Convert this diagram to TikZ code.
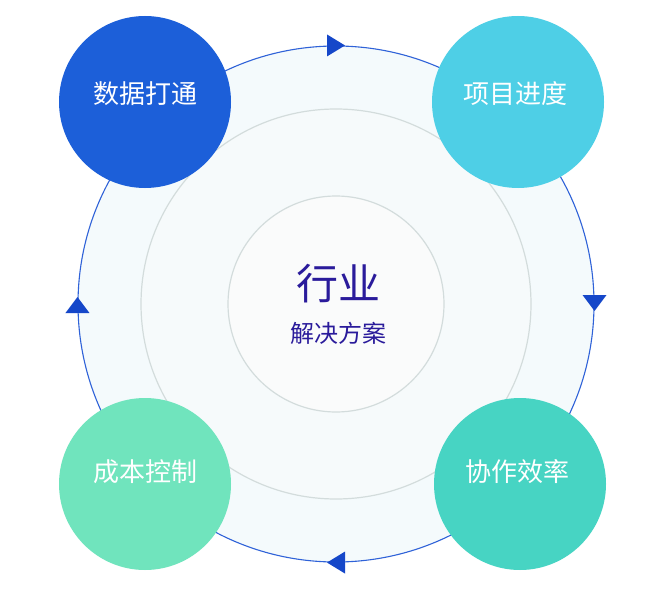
\documentclass[tikz,border=0pt]{standalone}
\usepackage{fontspec}
\usetikzlibrary{calc}
\newfontfamily\cjk{Noto Sans CJK SC}
\definecolor{ringblue}{HTML}{2F62D8}
\definecolor{arrowblue}{HTML}{1547C9}
\definecolor{ringfill}{HTML}{F4FAFC}
\definecolor{midfill}{HTML}{F6FAFB}
\definecolor{innerfill}{HTML}{FAFBFB}
\definecolor{grayline}{HTML}{D3DCDC}
\definecolor{cA}{HTML}{1C5FD9}
\definecolor{cB}{HTML}{4ECFE6}
\definecolor{cC}{HTML}{70E4BD}
\definecolor{cD}{HTML}{47D4C3}
\definecolor{centertext}{HTML}{2A1B9B}
\begin{document}
\begin{tikzpicture}[x=1pt,y=-1pt,
  ringc/.style={circle,inner sep=0pt,minimum size=#1},
  corner/.style={circle,inner sep=0pt,minimum size=172pt},
  cornertext/.style={text=white,font=\cjk\fontsize{26}{30}\selectfont},
  arrowtip/.style={fill=arrowblue}]
\useasboundingbox (0,0) rectangle (648,591);
\fill[white] (0,0) rectangle (648,591);
\node[ringc=516pt,draw=ringblue,line width=1.1pt,fill=ringfill] (ring) at (336,304) {};
\node[ringc=390pt,draw=grayline,line width=1.2pt,fill=midfill] (mid) at (336,304) {};
\node[ringc=216pt,draw=grayline,line width=1.2pt,fill=innerfill] (inner) at (336,304) {};
% arrow tips on the ring (clockwise)
\fill[arrowtip] ($(ring.north)+(9,0)$) -- ($(ring.north)+(-9,-11)$) -- ($(ring.north)+(-9,11)$) -- cycle;
\fill[arrowtip] ($(ring.east)+(0,7)$) -- ($(ring.east)+(-12,-9)$) -- ($(ring.east)+(12,-9)$) -- cycle;
\fill[arrowtip] ($(ring.south)+(-9,0)$) -- ($(ring.south)+(9,-11)$) -- ($(ring.south)+(9,11)$) -- cycle;
\fill[arrowtip] ($(ring.west)+(0,-7)$) -- ($(ring.west)+(-12,9)$) -- ($(ring.west)+(12,9)$) -- cycle;
% corner circles
\node[corner,fill=cA] (sj) at (145,102) {};
\node[corner,fill=cB] (xm) at (518,102) {};
\node[corner,fill=cC] (cb) at (145,484) {};
\node[corner,fill=cD] (xz) at (520,484) {};
\node[cornertext] (tsj) at ($(sj)+(0,-8)$) {数据打通};
\node[cornertext] (txm) at ($(xm)+(-3,-8)$) {项目进度};
\node[cornertext] (tcb) at ($(cb)+(0,-12)$) {成本控制};
\node[cornertext] (txz) at ($(xz)+(-3,-12)$) {协作效率};
% center text
\node[text=centertext,font=\cjk\fontsize{42}{46}\selectfont] (hy) at (338,284) {行业};
\node[text=centertext,font=\cjk\fontsize{24}{28}\selectfont] (jj) at (338,333) {解决方案};
\end{tikzpicture}
\end{document}
